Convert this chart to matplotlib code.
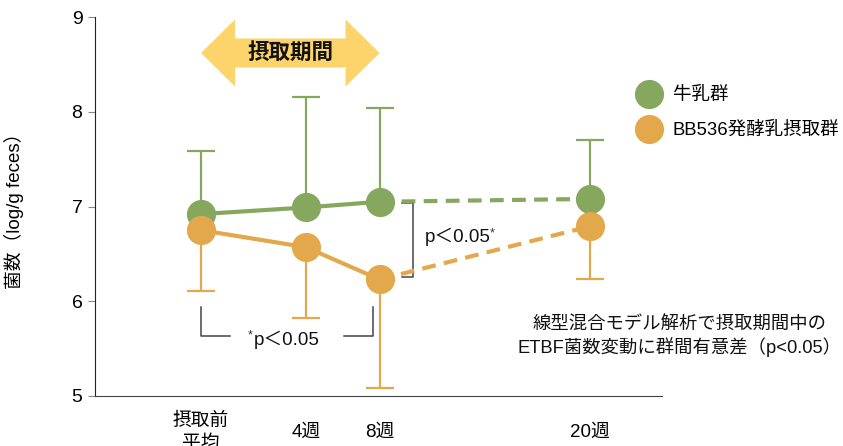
import matplotlib
matplotlib.use("Agg")
import matplotlib.pyplot as plt
import matplotlib.patches as mpatches

plt.rcParams['font.family'] = ['Liberation Sans', 'Noto Sans CJK JP']

# time points (pre-intake mean, 4w, 8w, 20w) and their positions along the axis
timepoints = ['摂取前\n平均', '4週', '8週', '20週']
x_pos = [0.0, 1.0, 1.7, 3.7]

# milk group: mean and upper SD bound
milk_mean = [6.92, 6.99, 7.05, 7.08]
milk_upper = [7.59, 8.16, 8.04, 7.70]

# BB536 fermented milk group: mean and lower SD bound
bb_mean = [6.75, 6.57, 6.23, 6.79]
bb_lower = [6.11, 5.82, 5.08, 6.24]

groups = ['牛乳群', 'BB536発酵乳摂取群']
green = '#86a85e'
orange = '#e3a84c'

fig = plt.figure(figsize=(8.43, 4.46), dpi=100)
ax = fig.add_axes([95 / 843, 50 / 446, 567 / 843, 379 / 446])
ax.set_xlim(-1.01, 4.39)
ax.set_ylim(5, 9)

# one-sided error bars
milk_err = [[0] * 4, [u - m for u, m in zip(milk_upper, milk_mean)]]
bb_err = [[m - l for l, m in zip(bb_lower, bb_mean)], [0] * 4]
ax.errorbar(x_pos, milk_mean, yerr=milk_err, fmt='none', ecolor=green,
            elinewidth=1.6, capsize=10, capthick=1.6, zorder=2)
ax.errorbar(x_pos, bb_mean, yerr=bb_err, fmt='none', ecolor=orange,
            elinewidth=1.6, capsize=10, capthick=1.6, zorder=5)

# solid during intake, dashed for follow-up
ax.plot(x_pos[:3], milk_mean[:3], color=green, lw=3, zorder=3)
ax.plot(x_pos[2:], milk_mean[2:], color=green, lw=3, dashes=(3.3, 2), zorder=3)
ax.plot(x_pos[:3], bb_mean[:3], color=orange, lw=3, zorder=6)
ax.plot(x_pos[2:], bb_mean[2:], color=orange, lw=3, dashes=(3.3, 2), zorder=6)
h_milk, = ax.plot(x_pos, milk_mean, 'o', color=green, ms=21, mec='none', zorder=4)
h_bb, = ax.plot(x_pos, bb_mean, 'o', color=orange, ms=21, mec='none', zorder=7)

ax.legend([h_milk, h_bb], groups, loc='upper left', bbox_to_anchor=(635 / 843, 1 - 87 / 446),
          bbox_transform=fig.transFigure, frameon=False, fontsize=13.3,
          handlelength=1.5, handletextpad=0.55, labelspacing=0.95,
          borderpad=0, borderaxespad=0)

# axes styling
for s in ['top', 'right']:
    ax.spines[s].set_visible(False)
ax.spines['left'].set_color('#222222')
ax.spines['bottom'].set_color('#444444')
ax.set_yticks([5, 6, 7, 8, 9])
ax.tick_params(axis='y', labelsize=14, length=5, width=0.8, color='#888888', pad=4)
ax.set_xticks(x_pos)
ax.set_xticklabels(timepoints, fontsize=13.5, linespacing=1.35)
ax.tick_params(axis='x', length=0, pad=26)
for lbl in ax.get_xticklabels():
    lbl.set_verticalalignment('center')
ax.set_ylabel('菌数（log/g feces）', fontsize=13.5)
ax.yaxis.set_label_coords(-0.125, 0.5)

# intake period arrow
y_c, head_h, shaft_h, head_l = 8.62, 0.354, 0.153, 0.324
x0, x1 = x_pos[0], x_pos[2]
arrow = mpatches.Polygon([
    (x0, y_c), (x0 + head_l, y_c + head_h), (x0 + head_l, y_c + shaft_h),
    (x1 - head_l, y_c + shaft_h), (x1 - head_l, y_c + head_h), (x1, y_c),
    (x1 - head_l, y_c - head_h), (x1 - head_l, y_c - shaft_h),
    (x0 + head_l, y_c - shaft_h), (x0 + head_l, y_c - head_h)],
    closed=True, facecolor='#fcd46b', edgecolor='none', clip_on=False, zorder=1)
ax.add_patch(arrow)
ax.text((x0 + x1) / 2, y_c, '摂取期間', fontsize=15.5, fontweight='bold',
        ha='center', va='center', color='#111111')

# within-group bracket: pre vs 8w
bc = '#444444'
ax.plot([x_pos[0], x_pos[0], 0.276], [5.94, 5.63, 5.63], color=bc, lw=1.1)
ax.plot([1.36, 1.64, 1.64], [5.63, 5.63, 5.94], color=bc, lw=1.1)
ax.text(0.5, 5.59, 'p＜0.05', fontsize=13.5, ha='left', va='center', color='#111111')
ax.text(0.44, 5.64, '*', fontsize=9, ha='left', va='center', color='#333333')

# between-group bracket at 8w
ax.plot([1.914, 2.02, 2.02, 1.914], [7.04, 7.04, 6.26, 6.26], color=bc, lw=1.1)
ax.text(2.133, 6.68, 'p＜0.05', fontsize=13.5, ha='left', va='center', color='#111111')
ax.text(2.75, 6.72, '*', fontsize=9, ha='left', va='center', color='#333333')

ax.text(4.56, 5.62, '線型混合モデル解析で摂取期間中の\nETBF菌数変動に群間有意差（p<0.05）',
        fontsize=13.2, ha='center', va='center', multialignment='center',
        linespacing=1.2, color='#111111')

fig.savefig('out.png', dpi=100)
